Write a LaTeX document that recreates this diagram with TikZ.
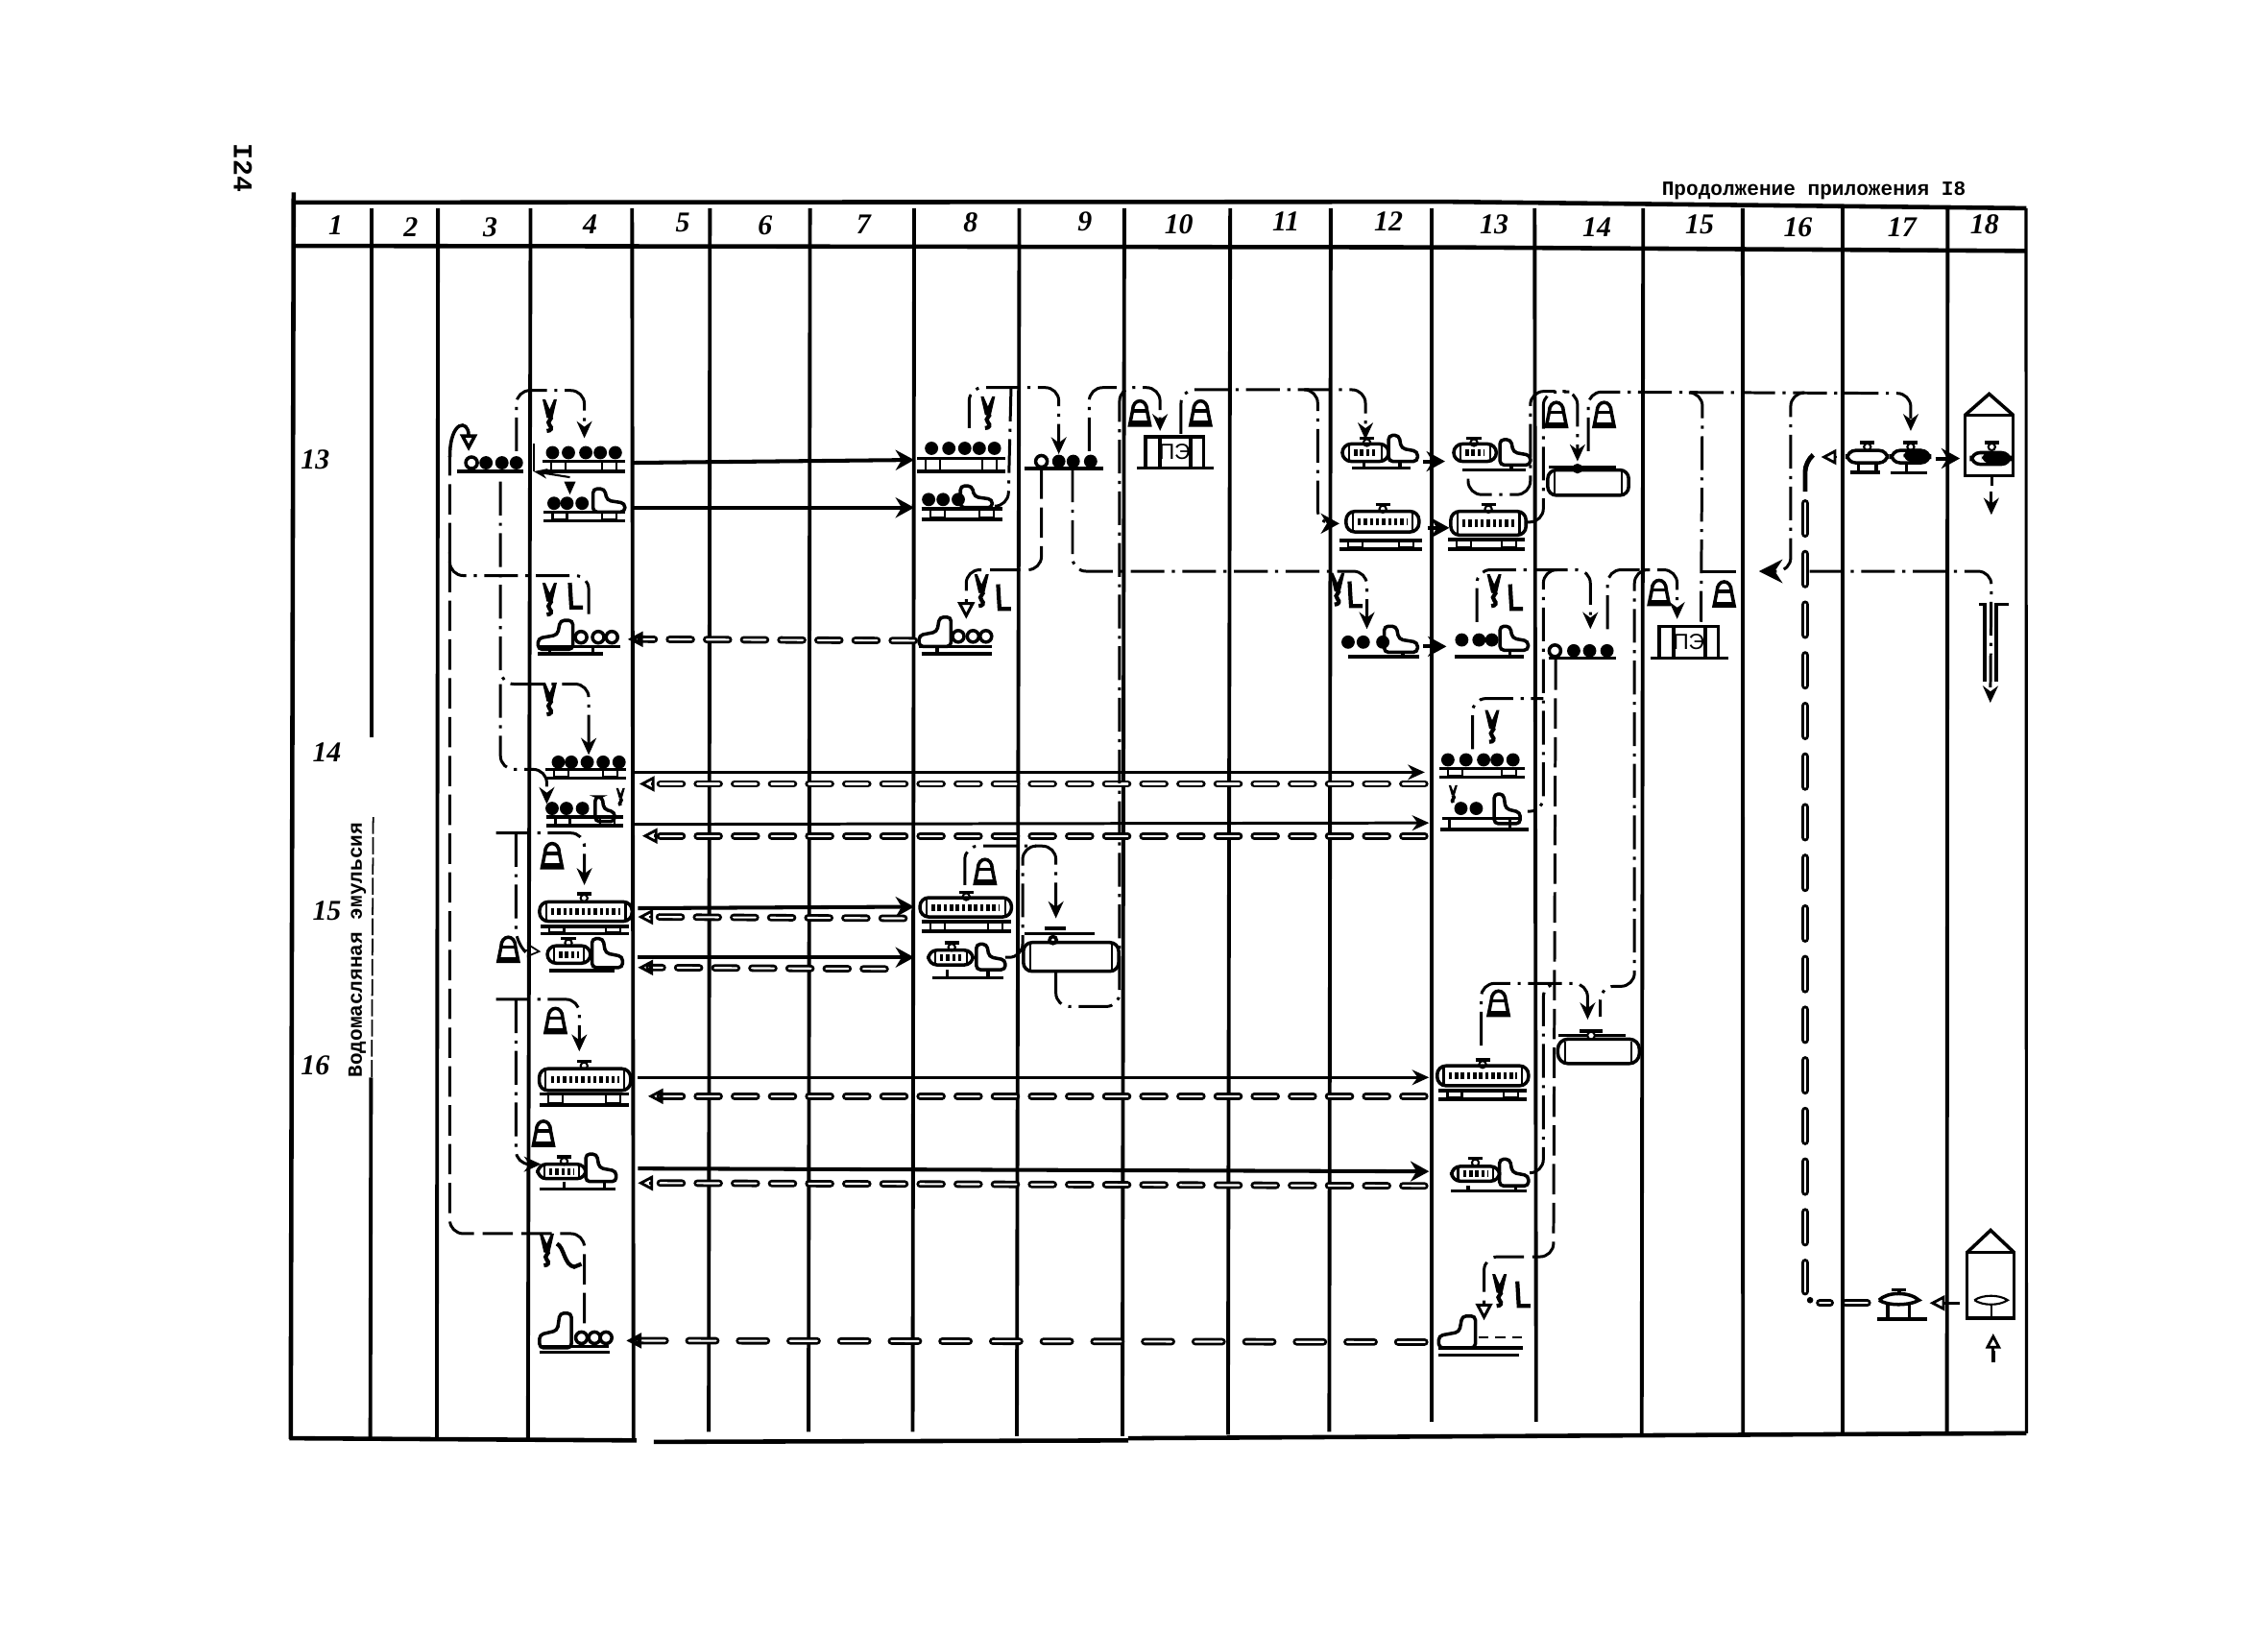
\documentclass[tikz,border=0pt]{standalone}
\usepackage{fontspec}
\setmainfont{Liberation Serif}
\newfontfamily\tw{Liberation Mono}
\newfontfamily\lsans{Liberation Sans}
\usetikzlibrary{arrows.meta}
\tikzset{
 gridline/.style={line width=1.1pt},
 ln1/.style={line width=.6pt},
 ln2/.style={line width=1pt},
 scrib/.style={line width=2pt,dash pattern=on 1pt off .8pt},
 load/.style={line width=1.15pt,-{Stealth[length=5.5pt,width=6pt]}},
 loadthin/.style={line width=.85pt,-{Stealth[length=5pt,width=4.5pt]}},
 ret/.style={line width=.8pt,double,double distance=.6pt,line cap=round,dash pattern=on 6.5pt off 4.5pt},
 retv/.style={line width=.8pt,double,double distance=.8pt,line cap=round,dash pattern=on 9pt off 6pt},
 htip/.style={line width=.8pt,-{Triangle[open,length=4.5pt,width=4.5pt]}},
 dd/.style={line width=.85pt,rounded corners=4pt,dash pattern=on 10pt off 2.2pt on .9pt off 2.2pt},
 tr/.style={line width=.85pt,rounded corners=4pt,dash pattern=on 9pt off 2.5pt},
 ddh/.style={dd,-{Stealth[length=5pt,width=4.5pt]}},
 trh/.style={tr,-{Triangle[open,length=5pt,width=5pt]}},
 hw/.style={inner sep=0pt,font=\itshape\bfseries\fontsize{8.5}{10}\selectfont},
 typed/.style={inner sep=0pt,font=\tw\bfseries\fontsize{6}{7}\selectfont},
}
\newcommand{\balls}[2]{\foreach \bx in {#1} {\fill (\bx,#2) circle[radius=4.6];}}
\newcommand{\hball}[2]{\draw[ln2] (#1,#2) circle[radius=4];}
\newcommand{\baseline}[3]{\draw[ln2] (#1,#3) -- (#2,#3);}
\newcommand{\railcar}[4]{%
 \draw[ln2] (#1,#3) -- (#2,#3);
 \draw[ln2] (#1,#4) -- (#2,#4);
 \draw[ln1] ({#1+6},#3) rectangle ({#1+16},{#4-1});
 \draw[ln1] ({#2-16},#3) rectangle ({#2-6},{#4-1});}
\newcommand{\cab}[4]{\begin{scope}[shift={(#1,#3)},xscale=#2-#1,yscale=#4-#3]
 \draw[ln2,rounded corners=1.2pt] (0,1) -- (0,0) -- (.36,0) -- (.44,.5) -- (1,.62) -- (1,1) -- cycle;
 \end{scope}}
\newcommand{\capsule}[4]{%
 \draw[ln2,rounded corners=2.6pt] (#1,#2) rectangle (#3,#4);
 \draw[ln1] ({#1+4.5},#2) -- ({#1+4.5},#4);
 \draw[ln1] ({#3-4.5},#2) -- ({#3-4.5},#4);}
\newcommand{\tankcar}[4]{\capsule{#1}{#2}{#3}{#4}
 \draw[scrib] ({#1+8},{(#2+#4)/2}) -- ({#3-8},{(#2+#4)/2});}
\newcommand{\domecap}[2]{\draw[ln1] (#1,#2) circle[radius=2.4];
 \draw[ln2] ({#1-5},{#2-3}) -- ({#1+5},{#2-3});}
\newcommand{\wheels}[3]{\foreach \wx in {#1} {\draw[ln2] (\wx,#2) -- (\wx,#3);}}
\newcommand{\hookg}[2]{%
 \fill ({#1-5},{#2-12}) -- ({#1-2},{#2+1}) -- ({#1+2},{#2+1}) -- ({#1+5},{#2-12}) -- ({#1+3},{#2-12}) -- (#1,{#2-5}) -- ({#1-3},{#2-12}) -- cycle;
 \draw[line width=1.2pt] (#1,#2) .. controls ({#1+3},{#2+2}) and ({#1-3},{#2+3}) .. (#1,{#2+6}) .. controls ({#1+2},{#2+8}) and ({#1+1},{#2+10}) .. ({#1-2},{#2+10});}
\newcommand{\minihook}[2]{%
 \fill ({#1-3},{#2-6}) -- ({#1-1},{#2+1}) -- ({#1+1},{#2+1}) -- ({#1+3},{#2-6}) -- ({#1+1.5},{#2-6}) -- (#1,{#2-2}) -- ({#1-1.5},{#2-6}) -- cycle;
 \draw[line width=1pt] (#1,{#2+1}) .. controls ({#1+2},{#2+3}) and ({#1-2},{#2+4}) .. (#1,{#2+6});}
\newcommand{\ellg}[2]{\draw[line width=1.2pt] ({#1-2},{#2-10}) -- ({#1-1},{#2+7}) -- ({#1+7},{#2+7});}
\newcommand{\bellg}[2]{%
 \draw[ln2] ({#1-7},{#2+9}) -- ({#1+7},{#2+9}) -- ({#1+5},{#2-1}) .. controls ({#1+5},{#2-10}) and ({#1-5},{#2-10}) .. ({#1-5},{#2-1}) -- cycle;
 \draw[ln2] ({#1-5},{#2-1}) -- ({#1+5},{#2-1});
 \fill ({#1-7},{#2+6}) rectangle ({#1+7},{#2+9});}
\newcommand{\pebox}[5]{% x1 x2 ytop ybase name
 \draw[ln2] (#1,#4) -- (#1,#3) -- (#2,#3) -- (#2,#4);
 \draw[ln2] ({#1+10},#3) -- ({#1+10},#4);
 \draw[ln2] ({#2-9},#3) -- ({#2-9},#4);
 \draw[ln2] ({#1-6},#4) -- ({#2+7},#4);
 \node[inner sep=0pt,font=\lsans\fontsize{6.5}{7}\selectfont] (#5) at ({(#1+#2)/2},{(#3+#4)/2}) {ПЭ};}
\newcommand{\silo}[5]{% x1 x2 apex eave bottom
 \draw[ln2] (#1,#4) -- ({(#1+#2)/2},#3) -- (#2,#4);
 \draw[ln2] (#1,#5) rectangle (#2,#4);}
\begin{document}
\begin{tikzpicture}[x=0.015064cm,y=-0.015064cm]
\useasboundingbox (0,0) rectangle (1568,1129.2);
% ---- texts
\node[rotate=-90,inner sep=0pt,font=\tw\bfseries\fontsize{8}{9}\selectfont] (page) at (168,116) {I24};
\node[typed] (title) at (1254,132) {Продолжение приложения I8};
\node[typed,rotate=90] (emul) at (247,657) {Водомасляная эмульсия};
\foreach \n/\x/\y in {1/232/156,2/284/157,3/339/157,4/408/155,5/472/154,6/529/156,7/597/155,8/671/154,9/750/153,10/815/155,11/889/153,12/960/153,13/1033/155,14/1104/157,15/1175/155,16/1243/157,17/1315/157,18/1372/155}
  \node[hw] (h\n) at (\x,\y) {\n};
\foreach \n/\x/\y in {13/218/318,14/226/520,15/226/630,16/218/737}
  \node[hw] (r\n) at (\x,\y) {\n};
% ---- grid
\draw[line width=1.3pt] (203,133) -- (201,995);
\foreach \xt/\xb/\yb in {366.8/365/995,437/438/995,490.8/490/990,560/559/990,632/631/990,704.7/703/993,777.3/776/993,850.5/849/992,920/919/990,990/990/983,1061/1062/983,1136/1135/992,1204.8/1205/992,1274/1274/992,1346.5/1346/992}
  \draw[gridline] (\xt,144) -- (\xb,\yb);
\draw[gridline] (302.8,144) -- (302,995);
\draw[gridline] (256.8,144) -- (256.8,510);
\draw[gridline] (256.5,745) -- (256,995);
\draw[line width=.5pt,dash pattern=on 5pt off 1pt] (258,565) -- (257,745);
\draw[line width=.9pt] (1400.7,144) -- (1401,991);
\draw[line width=1.3pt] (204,140) -- (1000,139.5) -- (1401,144);
\draw[line width=1.3pt] (204,170) -- (1000,171) -- (1401,173.5);
\draw[line width=1.3pt] (200,994.5) -- (440,996);
\draw[line width=1.3pt] (452,997) -- (780,996);
\draw[line width=1.3pt] (780,994.5) -- (1401,991);
% ---- named end points
\foreach \n/\x/\y in {
 a1s/438/320,a1e/632/318,a2s/438/351,a2e/632/351,a3s/632/443,a3e/441/442,
 b1s/438/534,b1e/985/534,b1rs/985/542,b1re/450/542,b2s/438/570,b2e/988/569,b2rs/985/578,b2re/452/578,
 c1s/441/628,c1e/632/627,c1rs/625/635,c1re/449/634,c2s/441/662,c2e/632/662,c2rs/612/670,c2re/449/669,
 d1s/441/745,d1e/988/745,d1rs/985/758,d1re/456/758,d2s/441/808,d2e/988/810,d2rs/985/820,d2re/449/818,
 ers/985/928,ere/441/927,
 t1s/984/319,t1e/999/319,t2s/987/365,t2e/1002/365,t3s/984/447,t3e/1000/447,t4s/1338/317,t4e/1355/317,
 ra/404/915,rb/324/312,rb0/311/316,rc/311/382,rd/407/427,re/346/333,rf/407/522,rg/346/473,rh/378/556,
 ri/357/312,rj/404/303,rk/670/296,rl/732/314,rm/699/268,rn/690/350,ro/720/324,rp/668/428,
 rq/741.5/324,rr/945/435,rs/730/672,rt/802/298,ru/753/312,rv/772/268,rw/816.5/300,rx/944/304,
 ry/905/269.5,rz/926/362,sa/1015/331,sb/1090.6/319,sc/1056/361,sd/1085/271,se/1098/312,sf/1321/298,
 sg/1168/271.5,sh/1176/430,si/1177/395,sj/1205/395,sk/1246/271.6,sl/1216/395,sm/1251/395,sn/1376/486,
 so/1021/430,sp/1099.5/435,sq/1111.4/435,sr/1159.5/428,ss/1136/394,st/1106.4/703,su/1072/394,sv/1056/561,
 sw/1018/518,sx/1067/483,sy/1075.5/456,sz/1026/913,ta/1024/723,tb/1097.6/705,tc/1058/811,td/1075/680,
 te/343/576,tf/404/612,tg/356.7/576,th/374/658,ti/343/691,tj/400.5/727,tk/356.7/691,tl/374/805,
 tm/667/612,tn/730/635,to/695/662,tp/716/585,tq/1253/315,tr1/1248/893,ts/1291/901,tu/1258/901,
 tv/1270/316,tw1/1259/316,tx/1355/901,ty/1334/901,tz/1378/934,ua/1378/922,ub/1376.7/340,uc/1376.7/356,ud/1377/330,ue/1377/336
 } \coordinate (\n) at (\x,\y);
% ---- horizontal flows
\draw[load] (a1s) -- (a1e); \draw[load] (a2s) -- (a2e);
\draw[ret] (a3s) -- (a3e); \draw[htip] (a3e) -- ++(-7,0);
\draw[loadthin] (b1s) -- (b1e); \draw[ret] (b1rs) -- (b1re); \draw[htip] (b1re) -- ++(-8,0);
\draw[loadthin] (b2s) -- (b2e); \draw[ret] (b2rs) -- (b2re); \draw[htip] (b2re) -- ++(-8,0);
\draw[load] (c1s) -- (c1e); \draw[ret] (c1rs) -- (c1re); \draw[htip] (c1re) -- ++(-8,0);
\draw[load] (c2s) -- (c2e); \draw[ret] (c2rs) -- (c2re); \draw[htip] (c2re) -- ++(-8,0);
\draw[loadthin] (d1s) -- (d1e); \draw[ret] (d1rs) -- (d1re); \draw[htip] (d1re) -- ++(-8,0);
\draw[load] (d2s) -- (d2e); \draw[ret] (d2rs) -- (d2re); \draw[htip] (d2re) -- ++(-8,0);
\draw[ret,dash pattern=on 8pt off 7pt] (ers) -- (ere); \draw[htip] (ere) -- ++(-8,0);
\foreach \p in {1,2,3} \draw[load] (t\p s) -- (t\p e);
\draw[load] (t4s) -- (t4e);
% ---- routes, col 3/4
\draw[tr] (ra) -- (404,853) -- (311,853) -- (rb0);
\draw[ln2,-{Triangle[open,length=5pt,width=5pt]}] (rb0) .. controls (311,290) and (324,290) .. (rb);
\draw[dd] (rc) -- (311,398) -- (407,398) -- (rd);
\draw[ddh] (re) -- (346,473) -- (407,473) -- (rf);
\draw[ddh] (rg) -- (346,532) -- (378,532) -- (rh);
\draw[ddh] (ri) -- (357,270) -- (404,270) -- (rj);
\draw[ln1] (369,307) -- (369,326);
\draw[ln1,-{Stealth[length=4pt,width=3pt]}] (394,330) -- (369,326);
\draw[ddh] (te) -- (404,576) -- (tf);
\draw[dd] (tg) -- (356.7,652) -- (362,657);
\draw[line width=.5pt,-{Triangle[open,length=4pt,width=4pt]}] (362,657) -- (th);
\draw[ddh] (ti) -- (400.5,691) -- (tj);
\draw[ddh] (tk) -- (356.7,805) -- (tl);
% ---- routes, col 8/9/10/11/12
\draw[ddh] (rk) -- (670,268) -- (732,268) -- (rl);
\draw[dd] (rm) -- (697,350) -- (rn);
\draw[trh] (ro) -- (720,394) -- (668,394) -- (rp);
\draw[ddh] (rq) -- (741.5,395) -- (945,395) -- (rr);
\draw[ddh] (rs) -- (730,696) -- (774,696) -- (774,268) -- (802,268) -- (rt);
\draw[dd] (ru) -- (753,268) -- (rv);
\draw[ddh] (rw) -- (816.5,269.5) -- (944,269.5) -- (rx);
\draw[dd,-{Stealth[length=5.5pt,width=6pt]}] (ry) -- (911,269.5) -- (911,362) -- (rz);
\draw[ddh] (tm) -- (667,585) -- (730,585) -- (tn);
\draw[dd] (to) -- (707,662) -- (707,585) -- (tp);
% ---- routes, col 13/14/15/16/17
\draw[ddh] (sa) -- (1015,342) -- (1058,342) -- (1058,270.6) -- (1090.6,270.6) -- (sb);
\draw[dd] (sc) -- (1067,361) -- (1067,271) -- (sd);
\draw[ddh] (se) -- (1098,271) -- (1321,272) -- (sf);
\draw[dd] (sg) -- (1177,271.5) -- (sh);
\draw[dd] (si) -- (sj);
\draw[dd,-{Stealth[length=7pt,width=7pt]}] (sk) -- (1238,271.6) -- (1238,395) -- (sl);
\draw[ddh] (sm) -- (1376.8,395) -- (sn);
\draw[ln2] (1368,418) -- (1372,418) -- (1372,471);
\draw[ln2] (1388.5,418) -- (1380,418) -- (1380,471);
\draw[ddh] (so) -- (1021,394) -- (1099.5,394) -- (sp);
\draw[ddh] (sq) -- (1111.4,394) -- (1159.5,394) -- (sr);
\draw[dd] (ss) -- (1130,394) -- (1130,682) -- (1106.4,682) -- (st);
\draw[dd] (su) -- (1067,394) -- (1067,561) -- (sv);
\draw[dd] (sw) -- (1018,483) -- (sx);
\draw[trh] (sy) -- (1074,869) -- (1026,869) -- (sz);
\draw[ddh] (ta) -- (1024,680) -- (1097.6,680) -- (tb);
\draw[dd] (tc) -- (1067,811) -- (1067,680) -- (td);
\draw[line width=1.4pt,rounded corners=3pt] (tq) -- (1248,319) -- (1248,340);
\draw[retv] (1248,348) -- (tr1);
\fill (1251.4,899) circle[radius=2.2];
\draw[ret] (ts) -- (tu);
\draw[htip] (tv) -- (tw1);
\draw[htip] (tx) -- (ty);
\draw[line width=1.2pt] (tz) -- (1378,942);
\draw[htip] (tz) -- (ua);
\draw[line width=.9pt] (ud) -- (ue);
\draw[loadthin] (ub) -- (uc);
% ---- symbols col 3
\hball{326}{320}\balls{336,347,357}{320}\baseline{316}{362}{326}
% ---- col 4
\hookg{380}{288}
\balls{382,393,405,415,425.4}{313}\railcar{375}{432}{319}{326}
\fill (390,333) -- (398,333) -- (394,342) -- cycle;
\balls{383,392,402.4}{348}\cab{410}{432}{338}{354}
\draw[ln2] (377,354) -- (432,354);\railcar{376}{432}{354}{360}
\hookg{380}{415}\ellg{396}{413}
\cab{396}{372}{429}{449}
\hball{401.7}{440.6}\hball{413.6}{440.6}\hball{423}{440.6}
\draw[ln2] (372,447) -- (429,447);\draw[ln2] (372,452) -- (417,452);\wheels{380,410}{447}{452}
\hookg{380}{484}
\balls{386,395,406,417,428}{527}\railcar{377}{433}{532}{538}
\balls{381.7,391.6,402.7}{559}\cab{411.5}{425}{551}{568}
\minihook{429}{551}
\draw[ln2] (378,565) -- (431,565);\railcar{378}{431}{565}{571}
\bellg{381.7}{591}
\tankcar{373}{623.6}{437}{637}\domecap{403.8}{621}
\railcar{374}{435}{640.6}{645.7}
\bellg{351.4}{655.8}
\tankcar{378.4}{654}{408.2}{666}\domecap{393}{652}\cab{409.3}{430.4}{649}{669}
\draw[ln2] (379.5,671) -- (425,671);
\bellg{384}{705}
\tankcar{372.8}{739}{436}{754}\domecap{403.8}{737}
\railcar{373}{435}{756.4}{764}
\bellg{375.7}{783}
\tankcar{371.7}{805}{405}{815}\domecap{390}{803}\cab{405}{426}{798}{817}
\draw[ln2] (373,822) -- (425.5,822);\wheels{390,418}{817}{822}
\hookg{378}{865}\draw[line width=1.2pt] (385,860) .. controls (390,862) and (390,875) .. (397,876) -- (402,874);
\cab{395}{373}{908}{932}
\hball{402}{925}\hball{411}{925}\hball{419}{925}
\draw[ln2] (373,931) -- (421,931);\draw[ln2] (373,935) -- (421.5,935);
% ---- col 8
\hookg{683}{286}
\balls{644,656,667,677,687.5}{310}\railcar{634}{695}{317}{326}
\balls{642,652,662.5}{345.4}\cab{664}{686}{336}{351}
\railcar{637}{693}{352}{359}
\hookg{678.6}{409}\ellg{692}{414}
\cab{657.5}{635.4}{426.7}{447}
\hball{662.5}{440}\hball{672.7}{440}\hball{681.6}{440}
\draw[ln2] (635,447) -- (686,447);\draw[ln2] (637,452) -- (686,452);\wheels{648}{447}{452}
\bellg{681}{602}
\tankcar{636}{620.7}{699.3}{634}\domecap{668}{620}
\railcar{637}{699}{637.3}{644}
\tankcar{641.8}{657}{672.7}{667.2}\domecap{658}{655}\cab{675}{695}{652.8}{670.5}
\draw[ln2] (644.4,676) -- (693.8,676);\wheels{655,683}{670.5}{676}
% ---- col 9
\hball{720}{319}\balls{732,742,754}{319}\baseline{708}{763}{324}
\capsule{707.5}{651.7}{773.4}{671.6}
\draw[ln2] (708,645.7) -- (757,645.7);\draw[ln2] (722,642) -- (737,642);
\draw[ln2] (728,650) circle[radius=2.4];
% ---- col 10
\bellg{788}{285}\bellg{830}{285}
\pebox{792}{832}{302}{323.5}{pe1}
% ---- col 12
\tankcar{928}{307}{960}{319}\domecap{945}{306}\cab{960}{980}{301}{319}
\draw[ln2] (935,323.5) -- (975,323.5);\wheels{943,968}{319}{323.5}
\tankcar{930.6}{353.6}{981}{367.8}\domecap{956}{352}
\railcar{926}{983}{373.7}{379.6}
\hookg{924.6}{408}\ellg{935}{412}
\balls{932,942.5,956}{444}\cab{957}{980}{433}{451}
\draw[ln2] (932,454) -- (981,454);\wheels{970}{451}{454}
% ---- col 13
\tankcar{1005}{307}{1034.5}{319}\domecap{1019}{306}\cab{1037}{1058}{304}{321.5}
\draw[ln2] (1011,325) -- (1055,325);\wheels{1045}{321.5}{325}
\tankcar{1003}{353.6}{1055}{370}\domecap{1029}{352}
\railcar{1001}{1054}{373}{379.6}
\hookg{1033}{409}\ellg{1046}{414}
\balls{1010.6,1022.5,1031.4}{442.5}\cab{1037}{1056.5}{433}{449.6}
\draw[ln2] (1006,454) -- (1053.6,454);\wheels{1044}{449.6}{454}
\hookg{1031.6}{503}
\balls{1001,1013.5,1025.7,1035,1046}{525.4}\railcar{995}{1054.4}{531.5}{537.3}
\minihook{1004.6}{549}
\balls{1010,1020.6}{559}\cab{1033}{1051}{549}{569.5}
\draw[ln2] (997,566) -- (1050,566);\draw[ln2] (996,573.5) -- (1056.7,573.5);\wheels{1002,1044}{566}{573.5}
\bellg{1036}{693}
\tankcar{993.6}{737}{1056.7}{750.7}\domecap{1025}{736}
\railcar{994.7}{1055.5}{754}{760}
\tankcar{1003.5}{806.5}{1036.7}{816.7}\domecap{1020}{804}\cab{1036.7}{1056.7}{801.5}{820}
\draw[ln2] (1003,823.5) -- (1055.6,823.5);\wheels{1015,1048}{820}{823.5}
\hookg{1036.7}{893}\ellg{1051}{896}
\cab{1020}{994.7}{910}{932}
\draw[ln1,dash pattern=on 3pt off 2pt] (1022,925) -- (1053,925);
\draw[ln2] (994.7,932) -- (1053,932);\draw[ln2] (994.7,937) -- (1050,937);
% ---- col 14
\bellg{1076}{286}\bellg{1109}{286}
\capsule{1070}{325}{1126}{342.5}
\draw[ln2] (1071,323) -- (1117,323);\draw[ln2] (1090.6,324) circle[radius=2.2];
\hball{1075}{450}\balls{1088,1099,1111}{450}\baseline{1070.5}{1117}{455}
\draw[ln2,rounded corners=3pt] (1077,718.5) rectangle (1133.4,735.4);
\draw[ln1] (1082,720) -- (1082,735);\draw[ln1] (1128,720) -- (1128,735);
\draw[ln2] (1077.7,716) -- (1124,716);\draw[ln2] (1092,713) -- (1108,713);\fill[white] (1100,716) circle[radius=2.6];\draw[ln1] (1100,716) circle[radius=2.6];
% ---- col 15
\bellg{1147}{409}\bellg{1192}{410}
\pebox{1147}{1188}{433}{455}{pe2}
% ---- col 17/18
\draw[ln2,rounded corners=2.5pt] (1277,311.5) rectangle (1305,320);\domecap{1291}{309}\wheels{1285,1297}{320}{326}
\draw[ln2] (1279,326.5) -- (1300,326.5);
\draw[ln2,rounded corners=2.5pt] (1307.7,311.5) rectangle (1334,320);\fill[rounded corners=2.5pt] (1316,310.5) rectangle (1334,319.5);
\domecap{1321}{309}\wheels{1318}{320}{327}\draw[ln2] (1307,327) -- (1332,327);
\silo{1358.6}{1391.8}{272.4}{287}{329}
\draw[ln2,rounded corners=2.5pt] (1363,313) rectangle (1389.6,321);\fill[rounded corners=2.5pt] (1370,312.5) rectangle (1389.6,320.5);
\domecap{1377}{309}
\draw[ln2] (1299,899) .. controls (1305,893) and (1320,893) .. (1326.7,899) .. controls (1320,903) and (1305,903) .. (1299,899);
\draw[ln2] (1308,892) -- (1318,892) ;\draw[ln2] (1313,892) -- (1313,895);
\wheels{1305,1320}{902}{911}\draw[ln2] (1298,912) -- (1332,912);
\silo{1360}{1392.4}{850.7}{866}{911.5}
\draw[ln1] (1365,899) .. controls (1371,895) and (1382,895) .. (1388,899) .. controls (1382,903) and (1371,903) .. (1365,899);
\draw[ln1] (1377,903) -- (1377,911);
\end{tikzpicture}
\end{document}
